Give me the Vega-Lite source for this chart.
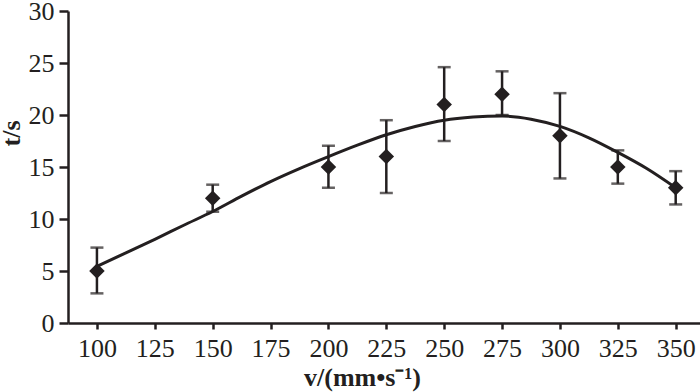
{
  "$schema": "https://vega.github.io/schema/vega-lite/v6.json",
  "width": 632,
  "height": 312,
  "autosize": "none",
  "padding": {"left": 68, "top": 11, "right": 0, "bottom": 69},
  "background": "white",
  "datasets": {
    "pts": [
      {"v": 100, "t": 5, "lo": 2.85, "hi": 7.25},
      {"v": 150, "t": 12, "lo": 10.7, "hi": 13.3},
      {"v": 200, "t": 15, "lo": 13.0, "hi": 17.05},
      {"v": 225, "t": 16, "lo": 12.5, "hi": 19.5},
      {"v": 250, "t": 21, "lo": 17.5, "hi": 24.6},
      {"v": 275, "t": 22, "lo": 20.0, "hi": 24.2},
      {"v": 300, "t": 18, "lo": 13.9, "hi": 22.1},
      {"v": 325, "t": 15, "lo": 13.4, "hi": 16.6},
      {"v": 350, "t": 13, "lo": 11.4, "hi": 14.6}
    ],
    "fit": [
      {"v": 100, "f": 5.44},
      {"v": 112.5, "f": 6.75},
      {"v": 125, "f": 8.05},
      {"v": 137.5, "f": 9.4},
      {"v": 150, "f": 10.72},
      {"v": 162.5, "f": 12.2},
      {"v": 175, "f": 13.6},
      {"v": 187.5, "f": 14.85},
      {"v": 200, "f": 16.0},
      {"v": 212.5, "f": 17.1},
      {"v": 225, "f": 18.1},
      {"v": 237.5, "f": 18.9},
      {"v": 250, "f": 19.5},
      {"v": 262.5, "f": 19.8},
      {"v": 275, "f": 19.9},
      {"v": 287.5, "f": 19.6},
      {"v": 300, "f": 18.9},
      {"v": 312.5, "f": 17.8},
      {"v": 325, "f": 16.4},
      {"v": 337.5, "f": 14.85},
      {"v": 350, "f": 13.0}
    ]
  },
  "config": {
    "view": {"stroke": null},
    "axis": {
      "grid": false,
      "domainColor": "#231f20",
      "domainWidth": 2.5,
      "tickColor": "#231f20",
      "tickWidth": 2.5,
      "labelFont": "Liberation Serif",
      "labelFontSize": 26,
      "labelColor": "#231f20",
      "titleFont": "Liberation Serif",
      "titleFontSize": 26,
      "titleFontWeight": "bold",
      "titleColor": "#231f20"
    }
  },
  "layer": [
    {
      "data": {"name": "fit"},
      "mark": {"type": "line", "color": "#231f20", "strokeWidth": 3, "interpolate": "monotone"},
      "encoding": {
        "x": {
          "field": "v", "type": "quantitative",
          "title": "v/(mm•s⁻¹)",
          "scale": {"domain": [87.5, 360.5], "nice": false, "zero": false},
          "axis": {
            "values": [100, 125, 150, 175, 200, 225, 250, 275, 300, 325, 350],
            "tickSize": 6,
            "labelPadding": 6,
            "labelFlush": false,
            "titleX": 294,
            "titleY": 62,
            "titleBaseline": "alphabetic",
            "titleAlign": "center"
          }
        },
        "y": {
          "field": "f", "type": "quantitative",
          "title": "t/s",
          "scale": {"domain": [0, 30], "nice": false},
          "axis": {
            "values": [0, 5, 10, 15, 20, 25, 30],
            "tickSize": 9,
            "labelPadding": 5,
            "labelFlush": false,
            "titleX": -49,
            "titleY": 122,
            "titleAngle": -90,
            "titleBaseline": "alphabetic",
            "titleAlign": "center"
          }
        }
      }
    },
    {
      "data": {"name": "pts"},
      "mark": {"type": "errorbar", "color": "#231f20", "thickness": 2.5, "ticks": {"size": 13, "thickness": 2.5, "color": "#231f20"}},
      "encoding": {
        "x": {"field": "v", "type": "quantitative", "title": "v/(mm•s⁻¹)"},
        "y": {"field": "lo", "type": "quantitative", "title": "t/s"},
        "y2": {"field": "hi"}
      }
    },
    {
      "data": {"name": "pts"},
      "mark": {"type": "point", "shape": "diamond", "filled": true, "size": 240, "color": "#231f20", "opacity": 1},
      "encoding": {
        "x": {"field": "v", "type": "quantitative", "title": "v/(mm•s⁻¹)"},
        "y": {"field": "t", "type": "quantitative", "title": "t/s"}
      }
    }
  ]
}
